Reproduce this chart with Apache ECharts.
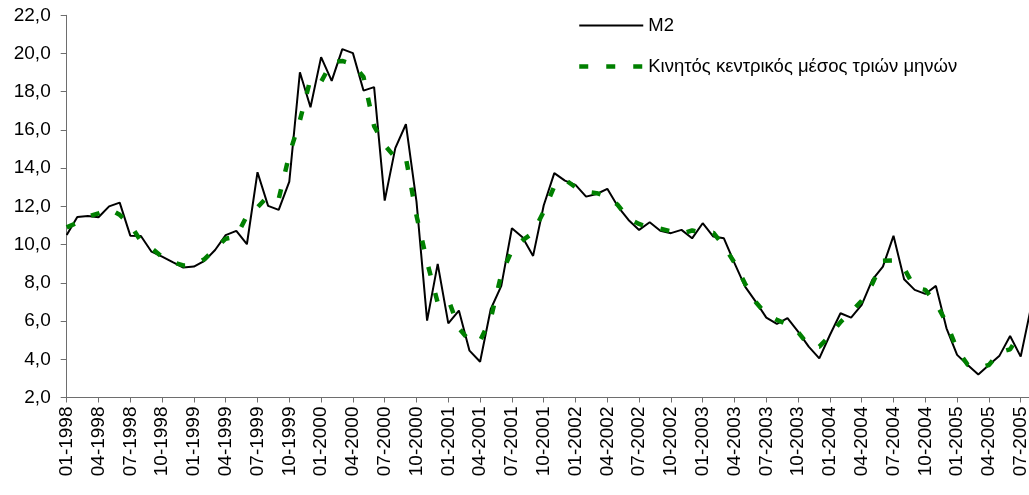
<!DOCTYPE html>
<html>
<head>
<meta charset="utf-8">
<script src="https://cdn.jsdelivr.net/npm/echarts@6/dist/echarts.min.js"></script>
<style>
  html, body { margin: 0; padding: 0; background: #fff; }
  #chart { width: 1029px; height: 495px; }
</style>
</head>
<body>
<div id="chart"></div>
<script>
// monthly labels, 01-1998 .. 08-2005 (last point falls just past the right edge)
const months = [
  '01-1998','02-1998','03-1998','04-1998','05-1998','06-1998','07-1998','08-1998','09-1998','10-1998','11-1998','12-1998',
  '01-1999','02-1999','03-1999','04-1999','05-1999','06-1999','07-1999','08-1999','09-1999','10-1999','11-1999','12-1999',
  '01-2000','02-2000','03-2000','04-2000','05-2000','06-2000','07-2000','08-2000','09-2000','10-2000','11-2000','12-2000',
  '01-2001','02-2001','03-2001','04-2001','05-2001','06-2001','07-2001','08-2001','09-2001','10-2001','11-2001','12-2001',
  '01-2002','02-2002','03-2002','04-2002','05-2002','06-2002','07-2002','08-2002','09-2002','10-2002','11-2002','12-2002',
  '01-2003','02-2003','03-2003','04-2003','05-2003','06-2003','07-2003','08-2003','09-2003','10-2003','11-2003','12-2003',
  '01-2004','02-2004','03-2004','04-2004','05-2004','06-2004','07-2004','08-2004','09-2004','10-2004','11-2004','12-2004',
  '01-2005','02-2005','03-2005','04-2005','05-2005','06-2005','07-2005','08-2005'
]

// M2 annual growth (%)
const m2 = [
  10.5, 11.45, 11.5, 11.43, 12.0, 12.2, 10.47, 10.45, 9.63, 9.37, 9.08, 8.8,
  8.85, 9.15, 9.72, 10.5, 10.72, 10.02, 13.79, 12.03, 11.82, 13.3, 19.02, 17.19,
  19.81, 18.57, 20.23, 20.02, 18.06, 18.24, 12.3, 15.05, 16.3, 12.25, 6.02, 8.99,
  5.88, 6.55, 4.45, 3.87, 6.62, 7.84, 10.86, 10.39, 9.41, 12.05, 13.74, 13.35,
  13.13, 12.51, 12.65, 12.92, 11.99, 11.29, 10.77, 11.17, 10.73, 10.6, 10.77, 10.33,
  11.12, 10.42, 10.33, 9.03, 7.8, 7.02, 6.18, 5.85, 6.15, 5.45, 4.66, 4.05,
  5.27, 6.41, 6.18, 6.85, 8.15, 8.85, 10.46, 8.19, 7.63, 7.42, 7.84, 5.62,
  4.23, 3.7, 3.21, 3.7, 4.19, 5.22, 4.14, 6.8
]

// centred three-month moving average
const movingAvg = [
  10.9, 11.15, 11.46, 11.64, 11.88, 11.56, 11.04, 10.18, 9.82, 9.36, 9.08, 8.91,
  8.93, 9.24, 9.79, 10.31, 10.41, 11.51, 11.95, 12.55, 12.38, 14.71, 16.5, 18.67,
  18.52, 19.54, 19.61, 19.44, 18.77, 16.2, 15.2, 14.55, 14.53, 11.52, 9.09, 6.96,
  7.14, 5.63, 4.96, 4.98, 6.11, 8.44, 9.7, 10.22, 10.62, 11.73, 13.05, 13.41,
  13.0, 12.76, 12.69, 12.52, 12.07, 11.35, 11.08, 10.89, 10.83, 10.7, 10.57, 10.74,
  10.62, 10.62, 9.93, 9.05, 7.95, 7.0, 6.35, 6.06, 5.82, 5.42, 4.72, 4.66,
  5.24, 5.95, 6.48, 7.06, 7.95, 9.15, 9.17, 8.76, 7.75, 7.63, 6.96, 5.9,
  4.52, 3.71, 3.54, 3.7, 4.37, 4.52, 5.39, null
]

const seriesNames = ['M2', 'Κινητός κεντρικός μέσος τριών μηνών']

const FONT = 'Liberation Sans, Arial, sans-serif'
const AXIS_COLOR = '#6e6e6e'

function buildOption() {
  return {
    backgroundColor: '#fff',
    animation: false,
    textStyle: { fontFamily: FONT },
    grid: { left: 66.7, right: -2.3, top: 15.3, bottom: 97.5, outerBoundsMode: 'none' },
    legend: {
      orient: 'vertical',
      left: 577,
      top: 16,
      padding: 0,
      itemWidth: 64,
      itemHeight: 18,
      itemGap: 22,
      data: seriesNames,
      // hide the round marker, keep only the line sample
      itemStyle: { opacity: 0 },
      lineStyle: { width: 'inherit' },
      textStyle: { fontSize: 18.5, color: '#000', fontFamily: FONT }
    },
    xAxis: {
      type: 'category',
      data: months,
      boundaryGap: false,
      axisLine: { lineStyle: { color: AXIS_COLOR, width: 1 } },
      axisTick: { show: true, interval: 2, length: 5, lineStyle: { color: AXIS_COLOR } },
      axisLabel: {
        interval: 2,
        rotate: 90,
        margin: 9,
        fontSize: 19,
        color: '#000',
        fontFamily: FONT
      },
      splitLine: { show: false }
    },
    yAxis: {
      type: 'value',
      min: 2,
      max: 22,
      interval: 2,
      axisLine: { show: true, lineStyle: { color: AXIS_COLOR, width: 1 } },
      axisTick: { show: true, inside: false, length: 6, lineStyle: { color: AXIS_COLOR } },
      axisLabel: {
        margin: 16,
        fontSize: 19,
        color: '#000',
        fontFamily: FONT,
        formatter: (v) => v.toFixed(1).replace('.', ',')
      },
      splitLine: { show: false }
    },
    series: [
      {
        name: seriesNames[0],
        type: 'line',
        data: m2,
        symbol: 'none',
        showSymbol: false,
        lineStyle: { color: '#000', width: 2 },
        itemStyle: { color: '#000' }
      },
      {
        name: seriesNames[1],
        type: 'line',
        data: movingAvg,
        symbol: 'none',
        showSymbol: false,
        lineStyle: { color: '#008000', width: 4.5, type: [9, 18] },
        itemStyle: { color: '#008000' }
      }
    ]
  }
}

const chart = echarts.init(document.getElementById('chart'), null, { renderer: 'canvas' })
chart.setOption(buildOption())
</script>
</body>
</html>
